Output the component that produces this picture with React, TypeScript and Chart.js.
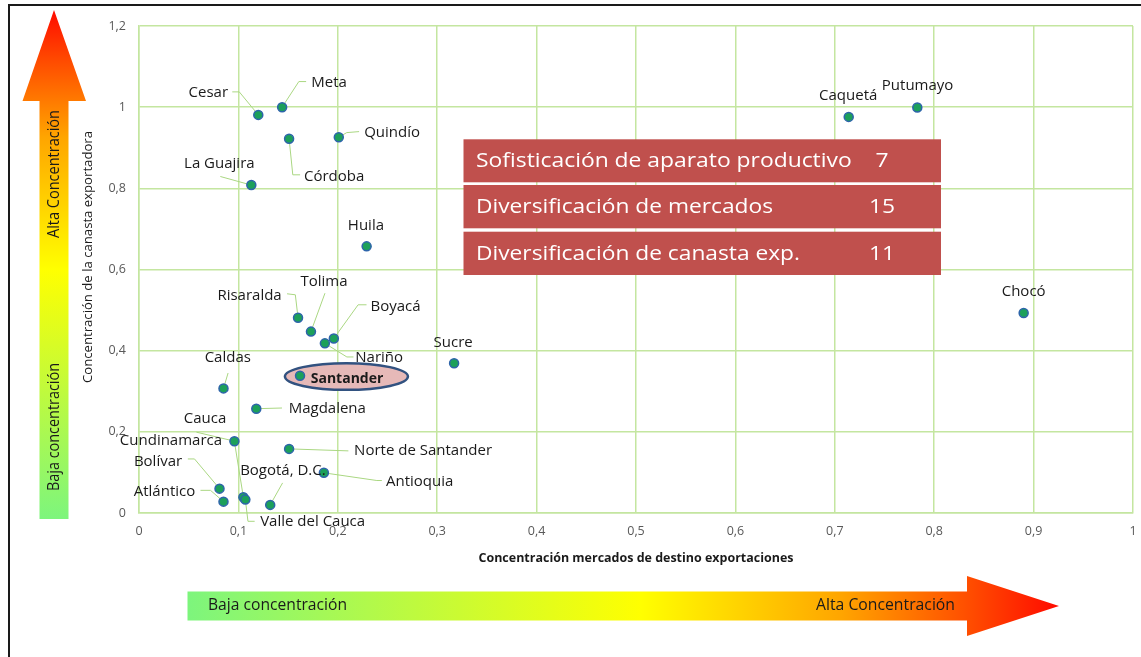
import React, { useEffect, useRef } from "react";
import { Chart, registerables } from "chart.js";

Chart.register(...registerables);

// ---------- DATA ----------
const departments = [
  "Cesar", "Meta", "Córdoba", "Quindío", "La Guajira", "Huila", "Risaralda", "Tolima",
  "Boyacá", "Nariño", "Sucre", "Santander", "Caldas", "Magdalena", "Cauca", "Cundinamarca",
  "Valle del Cauca", "Bolívar", "Atlántico", "Bogotá, D.C.", "Norte de Santander", "Antioquia",
  "Caquetá", "Putumayo", "Chocó",
];
// Concentración mercados de destino exportaciones (x)
const marketConcentration = [
  0.120, 0.144, 0.151, 0.201, 0.113, 0.229, 0.160, 0.173,
  0.196, 0.187, 0.317, 0.162, 0.085, 0.118, 0.096, 0.105,
  0.107, 0.081, 0.085, 0.132, 0.151, 0.186,
  0.714, 0.783, 0.890,
];
// Concentración de la canasta exportadora (y)
const basketConcentration = [
  0.981, 1.000, 0.922, 0.926, 0.808, 0.657, 0.481, 0.447,
  0.430, 0.418, 0.369, 0.338, 0.307, 0.257, 0.177, 0.039,
  0.033, 0.060, 0.028, 0.020, 0.158, 0.099,
  0.976, 0.999, 0.493,
];
const highlighted = "Santander";

const rankingLabels = [
  "Sofisticación de aparato productivo",
  "Diversificación de mercados",
  "Diversificación de canasta exp.",
];
const rankingValues = ["7", "15", "11"];

const xAxisTitle = "Concentración mercados de destino exportaciones";
const yAxisTitle = "Concentración de la canasta exportadora";
const lowText = "Baja concentración";
const highText = "Alta Concentración";

// ---------- LAYOUT / STYLE ----------
const labelLayout: { dx: number; dy: number; leader?: number[][] }[] = [
  { dx: -50, dy: -22, leader: [[-26, -23], [-19, -23], [0, 0]] },
  { dx: 47, dy: -24, leader: [[24, -25.6], [16.7, -25.6], [0, 0]] },
  { dx: 45, dy: 37.7, leader: [[0, 0], [3.7, 36], [11, 36]] },
  { dx: 53.3, dy: -4, leader: [[0, 0], [8, -4.6], [20.3, -5.6]] },
  { dx: -32, dy: -21, leader: [[-31, -8.6], [0, 0]] },
  { dx: -0.7, dy: -21 },
  { dx: -48.5, dy: -22, leader: [[-11, -24], [-2.7, -23], [0, 0]] },
  { dx: 13, dy: -50, leader: [[14, -38.4], [0, 0]] },
  { dx: 61.7, dy: -32, leader: [[32.7, -33.7], [24.3, -33.7], [0, 0]] },
  { dx: 54.3, dy: 14.6, leader: [[0, 0], [22, 13.6], [28.6, 13.6]] },
  { dx: -1, dy: -21 },
  { dx: 47, dy: 3.3 },
  { dx: 4.3, dy: -30.4, leader: [[4.6, -15.4], [0, 0]] },
  { dx: 71, dy: 0, leader: [[0, 0], [25.7, -0.7]] },
  { dx: -29.4, dy: -22.3, leader: [[-38, -9], [0, 0]] },
  { dx: -72.4, dy: -56.6, leader: [[-8.7, -54], [0, 0]] },
  { dx: 67.3, dy: 21.7, leader: [[0, 0], [2.6, 21.7], [9.3, 21.7]] },
  { dx: -61.5, dy: -27.3, leader: [[-31.7, -29.7], [-25, -29.7], [0, 0]] },
  { dx: -59, dy: -9.7, leader: [[-23, -11.3], [-13, -11.3], [0, 0]] },
  { dx: 12.7, dy: -34.3, leader: [[12.4, -22], [0, 0]] },
  { dx: 134, dy: 2, leader: [[0, 0], [59.3, 2]] },
  { dx: 95.8, dy: 8.7, leader: [[0, 0], [53, 7.7], [58, 7.7]] },
  { dx: -0.5, dy: -21.6 },
  { dx: 0.3, dy: -21.7 },
  { dx: 0, dy: -21.6 },
];
const tableRows = [
  [139.3, 182.3],
  [185, 228.3],
  [231.7, 275],
];
const tableTextWidths = [375.7, 297, 324];

const FONT = "'Open Sans', Lato, sans-serif";
const gridColor = "rgb(196,230,160)";
const leaderColor = "rgb(170,215,130)";
const tableColor = "rgb(192,80,77)";

const fmt = (v: number) => String(Math.round(v * 10) / 10).replace(".", ",");

function fitText(
  ctx: CanvasRenderingContext2D, text: string, x: number, y: number,
  font: string, target: number, align: CanvasTextAlign, rotate = 0,
): number {
  ctx.save();
  ctx.font = font;
  const w = ctx.measureText(text).width || 1;
  const sx = target / w;
  ctx.translate(x, y);
  if (rotate) ctx.rotate(rotate);
  ctx.scale(sx, 1);
  ctx.textAlign = align;
  ctx.textBaseline = "middle";
  ctx.fillText(text, 0, 0);
  ctx.restore();
  return sx;
}

function arrowGradientStops(g: CanvasGradient, yellowAt: number) {
  g.addColorStop(0, "rgb(125,245,125)");
  g.addColorStop(yellowAt, "rgb(255,255,0)");
  g.addColorStop(0.75, "rgb(255,165,0)");
  g.addColorStop(0.9, "rgb(255,75,0)");
  g.addColorStop(1, "rgb(255,10,0)");
}

const overlayPlugin = {
  id: "overlay",
  beforeDatasetsDraw(chart: any) {
    const ctx: CanvasRenderingContext2D = chart.ctx;
    const meta = chart.getDatasetMeta(0);
    ctx.save();
    ctx.strokeStyle = leaderColor;
    ctx.lineWidth = 1;
    labelLayout.forEach((l, i) => {
      const p = meta.data[i];
      if (!l.leader || !p) return;
      ctx.beginPath();
      l.leader.forEach(([dx, dy], j) => {
        if (j === 0) ctx.moveTo(p.x + dx, p.y + dy);
        else ctx.lineTo(p.x + dx, p.y + dy);
      });
      ctx.stroke();
    });
    const hi = departments.indexOf(highlighted);
    const hp = meta.data[hi];
    if (hp) {
      const l = labelLayout[hi];
      ctx.beginPath();
      ctx.ellipse(hp.x + l.dx - 0.6, hp.y + l.dy - 2.6, 61.5, 13.3, 0, 0, Math.PI * 2);
      ctx.fillStyle = "rgb(230,185,184)";
      ctx.fill();
      ctx.lineWidth = 2.5;
      ctx.strokeStyle = "rgb(50,82,128)";
      ctx.stroke();
    }
    ctx.restore();
  },
  afterDatasetsDraw(chart: any) {
    const ctx: CanvasRenderingContext2D = chart.ctx;
    const meta = chart.getDatasetMeta(0);
    ctx.save();
    ctx.textAlign = "center";
    ctx.textBaseline = "middle";
    ctx.fillStyle = "#1a1a1a";
    departments.forEach((name, i) => {
      const p = meta.data[i];
      if (!p) return;
      const l = labelLayout[i];
      const isHi = name === highlighted;
      ctx.font = `${isHi ? "bold " : ""}${isHi ? 14 : 15}px ${FONT}`;
      ctx.fillText(name, p.x + l.dx, p.y + l.dy);
    });
    ctx.restore();
  },
  afterDraw(chart: any) {
    const ctx: CanvasRenderingContext2D = chart.ctx;
    ctx.save();

    // ranking table box
    tableRows.forEach(([t, b], i) => {
      ctx.fillStyle = tableColor;
      ctx.fillRect(463.5, t, 477.5, b - t);
      ctx.fillStyle = "#ffffff";
      const f = `20.5px ${FONT}`;
      const sx = fitText(ctx, rankingLabels[i], 476, (t + b) / 2 + 0.5, f, tableTextWidths[i], "left");
      ctx.save();
      ctx.font = f;
      const nw = ctx.measureText(rankingValues[i]).width * sx;
      ctx.restore();
      fitText(ctx, rankingValues[i], 882, (t + b) / 2 + 0.5, f, nw, "center");
    });

    // axis titles
    ctx.fillStyle = "#1a1a1a";
    fitText(ctx, xAxisTitle, 636, 559, `bold 11.5px ${FONT}`, 315, "center");
    fitText(ctx, yAxisTitle, 88.5, 257, `12px ${FONT}`, 252, "center", -Math.PI / 2);

    // vertical arrow (left)
    const vBottom = 519, vTip = 10, vHead = 101;
    let g = ctx.createLinearGradient(0, vBottom, 0, vTip);
    arrowGradientStops(g, 0.49);
    ctx.fillStyle = g;
    ctx.beginPath();
    ctx.moveTo(39.5, vBottom);
    ctx.lineTo(39.5, vHead);
    ctx.lineTo(22.5, vHead);
    ctx.lineTo(54, vTip);
    ctx.lineTo(86, vHead);
    ctx.lineTo(68.5, vHead);
    ctx.lineTo(68.5, vBottom);
    ctx.closePath();
    ctx.fill();
    ctx.fillStyle = "#1a1a1a";
    fitText(ctx, highText, 55, 174, `15.5px ${FONT}`, 128, "center", -Math.PI / 2);
    fitText(ctx, lowText, 55, 427, `15.5px ${FONT}`, 128, "center", -Math.PI / 2);

    // horizontal arrow (bottom)
    const hLeft = 187.5, hTip = 1059, hHead = 967;
    g = ctx.createLinearGradient(hLeft, 0, hTip, 0);
    arrowGradientStops(g, 0.52);
    ctx.fillStyle = g;
    ctx.beginPath();
    ctx.moveTo(hLeft, 591.5);
    ctx.lineTo(hHead, 591.5);
    ctx.lineTo(hHead, 576);
    ctx.lineTo(hTip, 606);
    ctx.lineTo(hHead, 636);
    ctx.lineTo(hHead, 620.5);
    ctx.lineTo(hLeft, 620.5);
    ctx.closePath();
    ctx.fill();
    ctx.fillStyle = "#1a1a1a";
    fitText(ctx, lowText, 208, 606, `15.5px ${FONT}`, 139, "left");
    fitText(ctx, highText, 955, 606, `15.5px ${FONT}`, 139, "right");

    // outer frame
    ctx.strokeStyle = "#1a1a1a";
    ctx.lineWidth = 2;
    ctx.beginPath();
    ctx.moveTo(9, 657);
    ctx.lineTo(9, 5);
    ctx.lineTo(1141, 5);
    ctx.stroke();

    ctx.restore();
  },
};

export default function App() {
  const canvasRef = useRef<HTMLCanvasElement | null>(null);

  useEffect(() => {
    document.body.style.margin = "0";
    const canvas = canvasRef.current;
    if (!canvas) return;
    const points = marketConcentration.map((x, i) => ({ x, y: basketConcentration[i] }));
    const chart = new Chart(canvas, {
      type: "scatter",
      data: {
        datasets: [
          {
            label: "Departamentos",
            data: points,
            pointRadius: 4.5,
            pointBackgroundColor: "rgb(28,160,90)",
            pointBorderColor: "rgb(45,100,170)",
            pointBorderWidth: 1.5,
          },
        ],
      },
      options: {
        responsive: false,
        animation: false,
        devicePixelRatio: 1,
        layout: { padding: { top: 26, right: 8, left: 0, bottom: 0 } },
        plugins: {
          legend: { display: false },
          tooltip: { enabled: false },
        },
        scales: {
          x: {
            type: "linear",
            min: 0,
            max: 1,
            ticks: {
              stepSize: 0.1,
              callback: (v: any) => fmt(Number(v)),
              color: "#595959",
              font: { family: FONT, size: 12.5 },
              padding: 11,
              maxRotation: 0,
            },
            grid: { color: gridColor, lineWidth: 1.5, drawTicks: false },
            border: { color: gridColor, width: 1.5 },
            afterFit: (s: any) => {
              s.height = 144;
              s.paddingLeft = 0;
              s.paddingRight = 0;
            },
          },
          y: {
            type: "linear",
            min: 0,
            max: 1.2,
            ticks: {
              stepSize: 0.2,
              callback: (v: any) => fmt(Number(v)),
              color: "#595959",
              font: { family: FONT, size: 12.5 },
              padding: 13,
            },
            grid: { color: gridColor, lineWidth: 1.5, drawTicks: false },
            border: { color: gridColor, width: 1.5 },
            afterFit: (s: any) => {
              s.width = 139;
              s.paddingTop = 0;
              s.paddingBottom = 0;
            },
          },
        },
      },
      plugins: [overlayPlugin],
    } as any);
    return () => chart.destroy();
  }, []);

  return (
    <div style={{ position: "fixed", left: 0, top: 0, width: 1141, height: 657, background: "#fff" }}>
      <canvas ref={canvasRef} width={1141} height={657} style={{ display: "block" }} />
    </div>
  );
}
